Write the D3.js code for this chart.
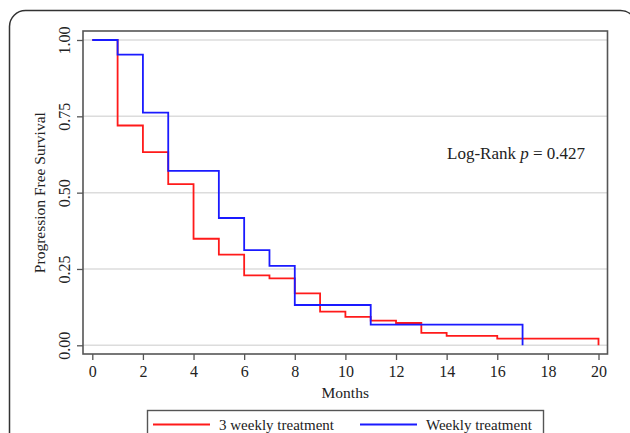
<!DOCTYPE html>
<html>
<head>
<meta charset="utf-8">
<script src="https://cdn.jsdelivr.net/npm/d3@7"></script>
<style>
  html, body { margin: 0; padding: 0; background: #fff; }
  svg { display: block; }
  text { font-family: "Liberation Serif", "Times New Roman", serif; fill: #222; }
</style>
</head>
<body>
<svg id="chart" width="630" height="433"></svg>
<script>
// ---- data ----
const seriesNames = ["3 weekly treatment", "Weekly treatment"];
const seriesColors = ["#ff1a1a", "#1a1aff"];
const threeWeeklyTimes = [0, 1, 2, 3, 4, 5, 6, 7, 8, 9, 10, 11, 12, 13, 14, 16, 20];
const threeWeeklySurv  = [1.00, 0.72, 0.633, 0.528, 0.349, 0.297, 0.229, 0.219, 0.170, 0.110, 0.093, 0.081, 0.073, 0.041, 0.031, 0.022, 0.00];
const weeklyTimes = [0, 1, 2, 3, 5, 6, 7, 8, 11, 17];
const weeklySurv  = [1.00, 0.952, 0.762, 0.571, 0.417, 0.312, 0.260, 0.132, 0.068, 0.00];
const xTicks = [0, 2, 4, 6, 8, 10, 12, 14, 16, 18, 20];
const yTicks = [0, 0.25, 0.5, 0.75, 1.0];
const xTitle = "Months";
const yTitle = "Progression Free Survival";

// ---- layout ----
const svg = d3.select("#chart");
const frame = { left: 83, right: 607.5, top: 31, bottom: 354 };
const x = d3.scaleLinear().domain([0, 20]).range([92.3, 598.5]);
const y = d3.scaleLinear().domain([0, 1]).range([345.3, 40]);
const serif = '"Liberation Serif", "Times New Roman", serif';

// outer rounded frame
svg.append("rect")
  .attr("x", 9.5).attr("y", 10.5)
  .attr("width", 627).attr("height", 520)
  .attr("rx", 16).attr("ry", 16)
  .attr("fill", "none").attr("stroke", "#333").attr("stroke-width", 1.5);

// gridlines
svg.append("g").selectAll("line").data(yTicks).join("line")
  .attr("x1", frame.left).attr("x2", frame.right)
  .attr("y1", d => y(d)).attr("y2", d => y(d))
  .attr("stroke", "#dcdcdc").attr("stroke-width", 1.5);

// plot frame
svg.append("rect")
  .attr("x", frame.left).attr("y", frame.top)
  .attr("width", frame.right - frame.left).attr("height", frame.bottom - frame.top)
  .attr("fill", "none").attr("stroke", "#555").attr("stroke-width", 1.6);

// y axis
const yAxis = svg.append("g")
  .attr("transform", `translate(${frame.left},0)`)
  .call(d3.axisLeft(y).tickValues(yTicks).tickFormat(d3.format(".2f")).tickSize(6).tickPadding(12));
yAxis.select(".domain").remove();
yAxis.selectAll(".tick line").attr("stroke", "#555").attr("stroke-width", 1.3);
yAxis.selectAll(".tick text")
  .attr("font-family", serif).attr("font-size", 16).attr("fill", "#222")
  .attr("x", null).attr("dy", null)
  .attr("text-anchor", "middle")
  .attr("transform", "translate(-13,0) rotate(-90)")
  .attr("y", 0);

// x axis
const xAxis = svg.append("g")
  .attr("transform", `translate(0,${frame.bottom})`)
  .call(d3.axisBottom(x).tickValues(xTicks).tickFormat(d3.format("d")).tickSize(6).tickPadding(6));
xAxis.select(".domain").remove();
xAxis.selectAll(".tick line").attr("stroke", "#555").attr("stroke-width", 1.3);
xAxis.selectAll(".tick text")
  .attr("font-family", serif).attr("font-size", 16).attr("fill", "#222");

// axis titles
svg.append("text")
  .attr("x", (frame.left + frame.right) / 2).attr("y", 398)
  .attr("text-anchor", "middle").attr("font-size", 15.5)
  .text(xTitle);
svg.append("text")
  .attr("transform", `translate(45,${y(0.5)}) rotate(-90)`)
  .attr("text-anchor", "middle").attr("font-size", 15.5)
  .text(yTitle);

// step lines
const line = d3.line().x(d => x(d[0])).y(d => y(d[1])).curve(d3.curveStepAfter);
const redData = d3.zip(threeWeeklyTimes, threeWeeklySurv);
const blueData = d3.zip(weeklyTimes, weeklySurv);
svg.append("path").datum(redData).attr("d", line)
  .attr("fill", "none").attr("stroke", seriesColors[0]).attr("stroke-width", 1.8);
svg.append("path").datum(blueData).attr("d", line)
  .attr("fill", "none").attr("stroke", seriesColors[1]).attr("stroke-width", 1.8);

// annotation
const ann = svg.append("text").attr("x", 447).attr("y", 159).attr("font-size", 17);
ann.append("tspan").text("Log-Rank ");
ann.append("tspan").attr("font-style", "italic").text("p");
ann.append("tspan").text(" = 0.427");

// legend
svg.append("rect")
  .attr("x", 147.5).attr("y", 410.5).attr("width", 396).attr("height", 40)
  .attr("fill", "none").attr("stroke", "#555").attr("stroke-width", 1.4);
const legendX = [153, 360];
const legend = svg.append("g").selectAll("g").data(seriesNames).join("g");
legend.append("line")
  .attr("x1", (d, i) => legendX[i]).attr("x2", (d, i) => legendX[i] + 57)
  .attr("y1", 424.5).attr("y2", 424.5)
  .attr("stroke", (d, i) => seriesColors[i]).attr("stroke-width", 1.8);
legend.append("text")
  .attr("x", (d, i) => legendX[i] + 66).attr("y", 430)
  .attr("font-size", 15)
  .text(d => d);
</script>
</body>
</html>
